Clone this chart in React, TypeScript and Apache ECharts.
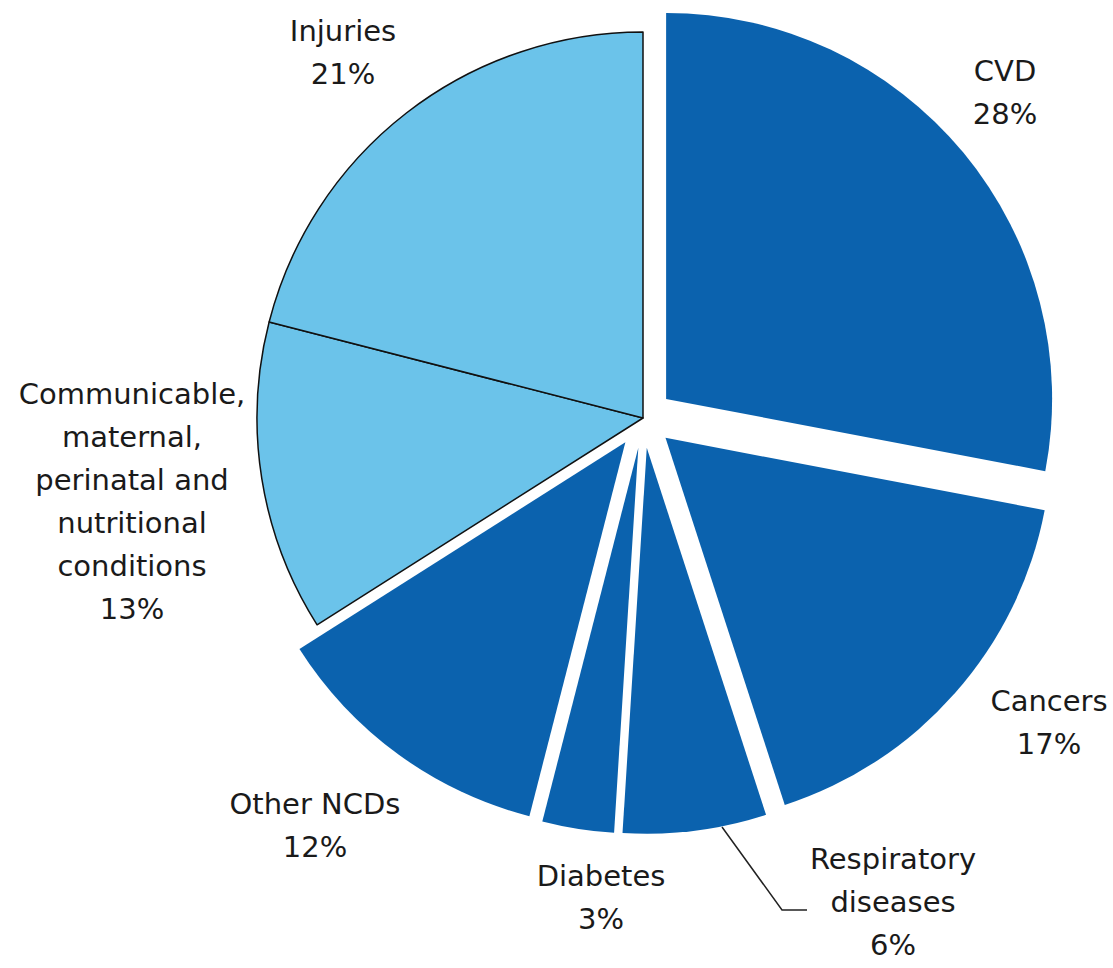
import React, { useEffect, useRef } from 'react';
import * as echarts from 'echarts';

// ---- Data ----
const categories = [
  'CVD',
  'Cancers',
  'Respiratory\ndiseases',
  'Diabetes',
  'Other NCDs',
  'Communicable,\nmaternal,\nperinatal and\nnutritional\nconditions',
  'Injuries',
];
const shares = [28, 17, 6, 3, 12, 13, 21];
const isNCD = [true, true, true, true, true, false, false];

// ---- Styling / layout (not data) ----
const DARK = '#0b62ae';
const LIGHT = '#6bc3ea';
const TEXT = '#1a1a1a';
const labelCenters = [
  [1005, 92],
  [1049, 722],
  [893, 902],
  [601, 897],
  [315, 825],
  [132, 501],
  [343, 52],
];
const leaderPoints = [
  [722, 827],
  [782, 910],
  [807, 910],
];

export default function App() {
  const ref = useRef<HTMLDivElement>(null);

  useEffect(() => {
    if (!ref.current) return;
    const chart = echarts.init(ref.current, undefined, { renderer: 'svg' });
    const data = categories.map((name, i) => ({
      name,
      value: shares[i],
      selected: isNCD[i],
      itemStyle: isNCD[i]
        ? { color: DARK, borderWidth: 0 }
        : { color: LIGHT, borderColor: '#111', borderWidth: 1.5 },
    }));
    const labels = categories.map((name, i) => ({
      type: 'text',
      x: labelCenters[i][0],
      y: labelCenters[i][1],
      silent: true,
      style: {
        text: `${name}\n${shares[i]}%`,
        fill: TEXT,
        font: '29px "DejaVu Sans"',
        lineHeight: 43,
        align: 'center',
        verticalAlign: 'middle',
      },
    }));
    chart.setOption({
      animation: false,
      backgroundColor: '#ffffff',
      graphic: [
        ...labels,
        {
          type: 'polyline',
          silent: true,
          shape: { points: leaderPoints },
          style: { stroke: '#222', lineWidth: 1.5, fill: 'none' },
        },
      ],
      series: [
        {
          type: 'pie',
          center: [643, 418],
          radius: 386,
          startAngle: 90,
          clockwise: true,
          selectedMode: 'multiple',
          selectedOffset: 30,
          avoidLabelOverlap: false,
          emphasis: { disabled: true },
          select: { itemStyle: { color: DARK, borderWidth: 0 } },
          label: { show: false },
          labelLine: { show: false },
          data,
        },
      ],
    });
    return () => chart.dispose();
  }, []);

  return (
    <div
      ref={ref}
      style={{ position: 'absolute', left: 0, top: 0, width: 1113, height: 968 }}
    />
  );
}
